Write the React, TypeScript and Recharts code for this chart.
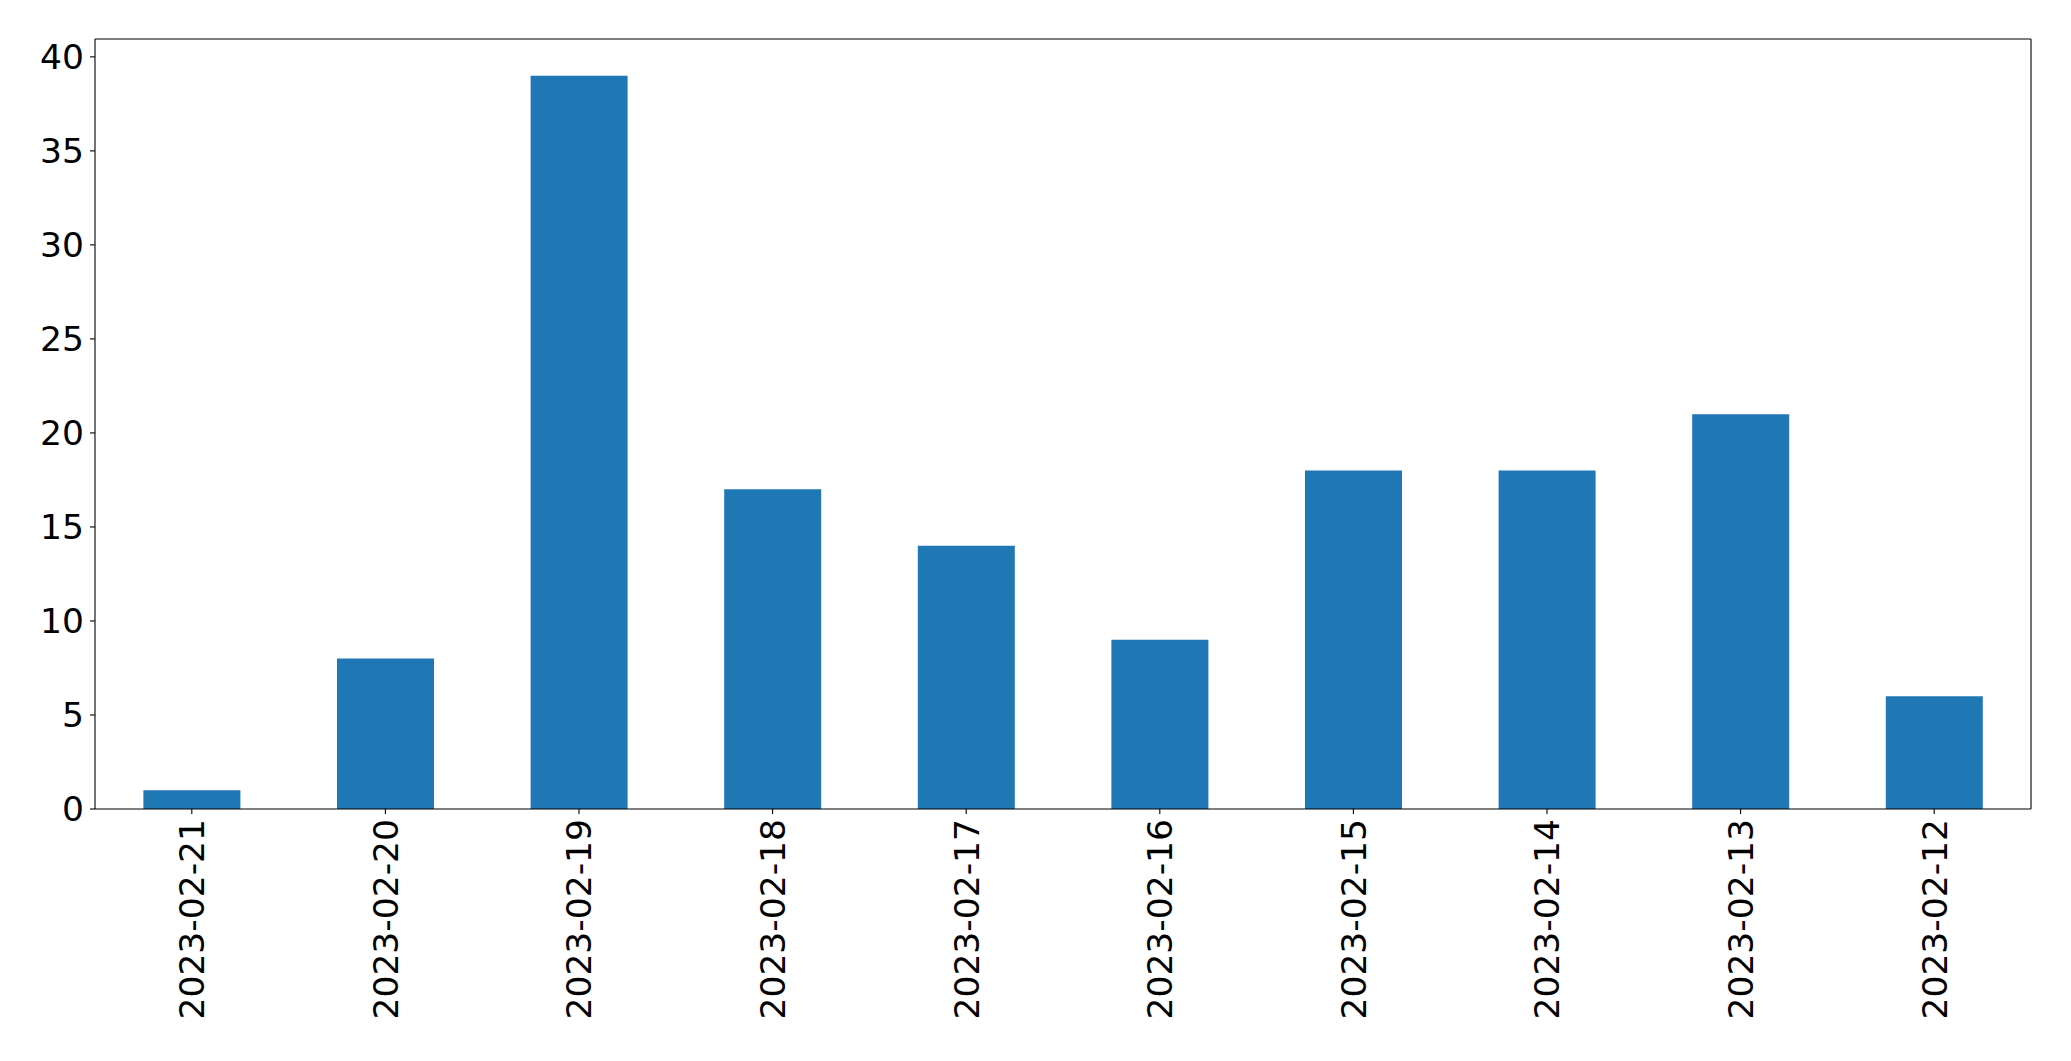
import React from 'react';
import { BarChart, Bar, XAxis, YAxis } from 'recharts';

const categories = ['2023-02-21', '2023-02-20', '2023-02-19', '2023-02-18', '2023-02-17', '2023-02-16', '2023-02-15', '2023-02-14', '2023-02-13', '2023-02-12'];
const counts = [1, 8, 39, 17, 14, 9, 18, 18, 21, 6];
const yTicks = [0, 5, 10, 15, 20, 25, 30, 35, 40];

const data = categories.map((c, i) => ({ date: c, count: counts[i] }));

const FONT = 'DejaVu Sans';
const FS = 34.5;

const XTick = (props: any) => {
  const { x, y, payload } = props;
  return (
    <g transform={`translate(${x},${y})`}>
      <text
        transform="rotate(-90)"
        x={0}
        y={0}
        dy="0.36em"
        textAnchor="end"
        fontFamily={FONT}
        fontSize={FS}
        fill="#000"
      >
        {payload.value}
      </text>
    </g>
  );
};

export default function App() {
  return (
    <div style={{ position: 'absolute', left: 0, top: 0, background: '#fff' }}>
      <BarChart
        width={2071}
        height={1061}
        data={data}
        margin={{ top: 38, right: 39, bottom: 0, left: 0 }}
        barCategoryGap="25%"
      >
        <XAxis
          dataKey="date"
          interval={0}
          height={252}
          tickSize={5}
          tickMargin={5}
          tick={<XTick />}
          axisLine={{ stroke: '#000', strokeWidth: 1.1 }}
          tickLine={{ stroke: '#000', strokeWidth: 1.1 }}
        />
        <XAxis
          xAxisId="top"
          dataKey="date"
          orientation="top"
          height={1}
          tick={false}
          tickLine={false}
          axisLine={{ stroke: '#000', strokeWidth: 1.1 }}
        />
        <YAxis
          width={95}
          domain={[0, 40.95]}
          ticks={yTicks}
          interval={0}
          tickSize={5}
          tickMargin={6}
          tick={{ fontFamily: FONT, fontSize: FS, fill: '#000' }}
          axisLine={{ stroke: '#000', strokeWidth: 1.1 }}
          tickLine={{ stroke: '#000', strokeWidth: 1.1 }}
        />
        <YAxis
          yAxisId="right"
          orientation="right"
          width={1}
          domain={[0, 40.95]}
          tick={false}
          tickLine={false}
          axisLine={{ stroke: '#000', strokeWidth: 1.1 }}
        />
        <Bar dataKey="count" fill="#1f77b4" isAnimationActive={false} />
        <Bar
          dataKey="count"
          xAxisId="top"
          yAxisId="right"
          fill="none"
          stroke="none"
          legendType="none"
          isAnimationActive={false}
        />
      </BarChart>
    </div>
  );
}
